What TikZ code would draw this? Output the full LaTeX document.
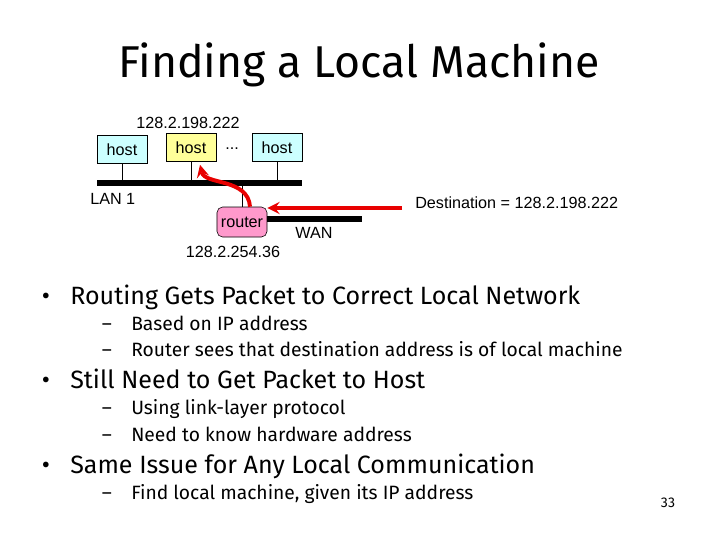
\documentclass[tikz,border=0pt]{standalone}
\usepackage{fontspec}
\setmainfont{Fira Sans}
\newfontfamily\arialfont{Liberation Sans}
\usepackage{xcolor}
\definecolor{hostcyan}{RGB}{204,255,255}
\definecolor{hostyellow}{RGB}{255,255,153}
\definecolor{routerpink}{RGB}{255,153,204}
\definecolor{pathred}{RGB}{232,0,0}
\usetikzlibrary{shapes,arrows,positioning,calc}

\begin{document}
\begin{tikzpicture}[x=0.025cm,y=-0.025cm,>=stealth,
        every node/.style={inner sep=0pt},
        hostbox/.style={draw=black,fill=hostcyan,minimum width=1.25cm,minimum height=0.7cm,font=\arialfont\fontsize{11.5}{13}\selectfont},
        routerbox/.style={draw=black,fill=routerpink,rounded corners=4pt,minimum width=1.25cm,minimum height=0.75cm,font=\arialfont\fontsize{11.5}{13}\selectfont},
        netlabel/.style={font=\arialfont\fontsize{11.5}{13}\selectfont},
        wire/.style={draw=black,thin},
        bus/.style={draw=black,line width=4.3pt},
        redpath/.style={draw=pathred,line width=2.8pt,->},
        item/.style={anchor=base west,font=\fontsize{17.8}{21}\selectfont},
        subitem/.style={anchor=base west,font=\fontsize{13.7}{16}\selectfont}]
    \useasboundingbox (0,0) rectangle (720,540);

    % title
    \node[font=\fontsize{31.7}{38}\selectfont,anchor=base] (title) at (359,77) {Finding a Local Machine};

    % LAN 1
    \coordinate (lanL) at (97,183);
    \coordinate (lanR) at (302,183);
    \draw[bus] (lanL) -- (lanR);
    \node[netlabel,anchor=west] (lanlabel) at (90,199) {LAN 1};

    \node[hostbox] (h1) at (122,149.5) {host};
    \node[hostbox,fill=hostyellow] (h2) at (191,147.5) {host};
    \node[hostbox] (h3) at (277,147.5) {host};
    \node[netlabel] (dots) at (232,149) {...};
    \node[netlabel] (ip1) at (188,123) {128.2.198.222};
    \foreach \h in {h1,h2,h3} {
        \draw[wire] (\h.south) -- (\h.south |- lanL);
    }

    % router and WAN
    \node[routerbox] (router) at (242,222) {router};
    \draw[wire] (router.north) -- (router.north |- lanL);
    \node[netlabel] (ip2) at (233,252) {128.2.254.36};
    \coordinate (wanend) at (362,219);
    \draw[bus] (router.east |- wanend) -- (wanend);
    \node[netlabel] (wanlabel) at (314,233) {WAN};

    % packet path
    \coordinate (redstart) at (402,208);
    \draw[redpath] (redstart) -- (router.east |- redstart);
    \draw[redpath] ($(router.north)+(8,0)$) .. controls (248,178) and (205,185) .. ($(h2.south)+(9,3)$);
    \node[netlabel,anchor=west] (dest) at (415,203) {Destination = 128.2.198.222};

    % bullets
    \foreach \i/\yb/\txt in {1/304/{Routing Gets Packet to Correct Local Network},
                             2/388/{Still Need to Get Packet to Host},
                             3/473/{Same Issue for Any Local Communication}} {
        \node[item,anchor=base] (dot\i) at (46,\yb) {•};
        \node[item] (item\i) at (70,\yb) {\txt};
    }
    \foreach \i/\yb/\txt in {1/330/{Based on IP address},
                             2/356/{Router sees that destination address is of local machine},
                             3/414/{Using link-layer protocol},
                             4/441/{Need to know hardware address},
                             5/499/{Find local machine, given its IP address}} {
        \node[subitem,anchor=base] (dash\i) at (107,\yb) {–};
        \node[subitem] (sub\i) at (131,\yb) {\txt};
    }

    \node[font=\fontsize{10}{12}\selectfont] (pagenum) at (668,503) {33};
\end{tikzpicture}
\end{document}
